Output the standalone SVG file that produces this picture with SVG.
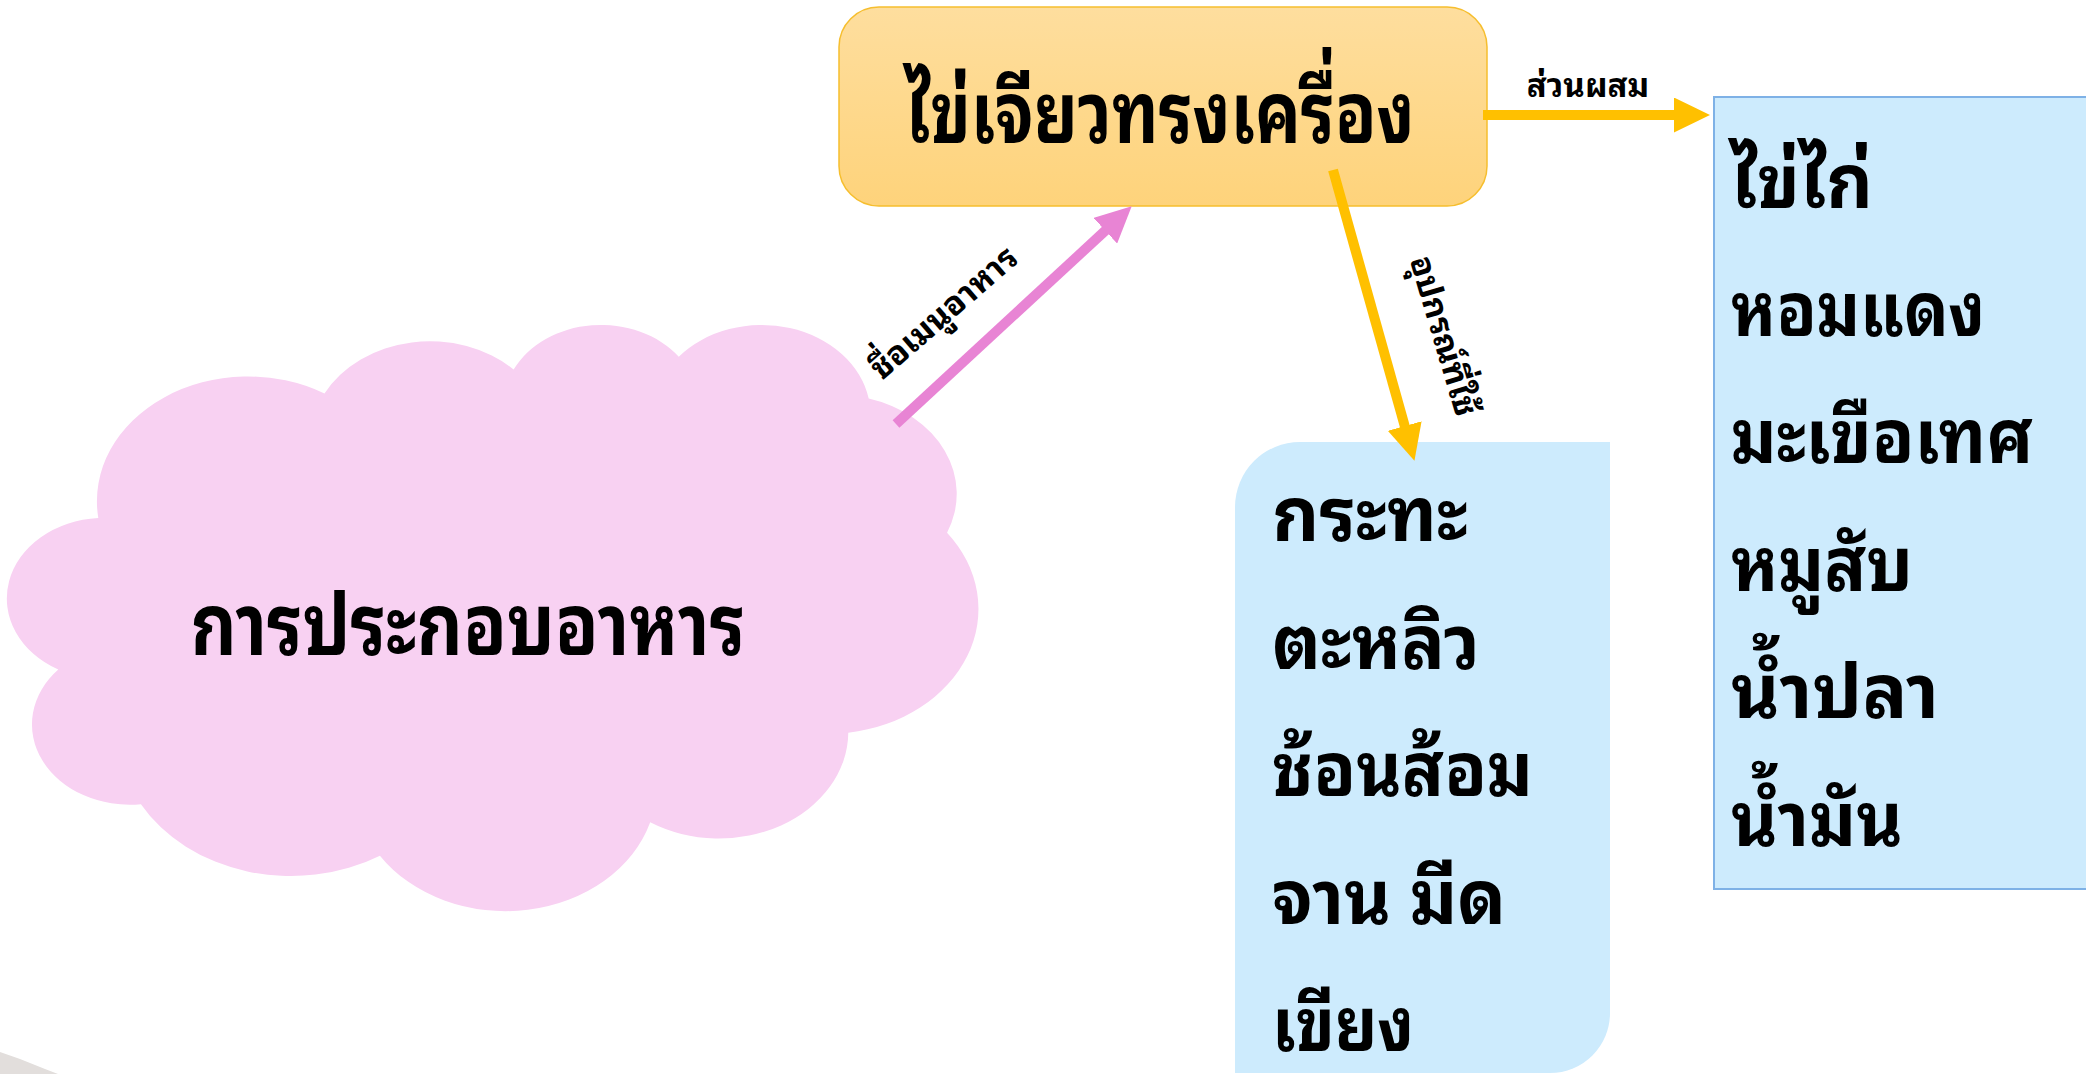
<svg xmlns="http://www.w3.org/2000/svg" width="2086" height="1074" viewBox="0 0 2086 1074">
<defs>
<style>
.th{font-family:"Noto Sans Thai Looped","Noto Sans Thai","Noto Sans","DejaVu Sans",sans-serif;font-weight:bold;fill:#000}
.big{font-size:74px}
.head{font-size:86px}
.lbl{font-size:33px}
.blue{fill:#CDEBFD}
</style>
<linearGradient id="gOrange" x1="0" y1="0" x2="0" y2="1">
<stop offset="0" stop-color="#FEDE9E"/>
<stop offset="1" stop-color="#FED37B"/>
</linearGradient>
<marker id="mPink" markerUnits="userSpaceOnUse" markerWidth="36" markerHeight="35" viewBox="0 0 36 35" refX="1" refY="17.5" orient="auto">
<path d="M0,0 L36,17.5 L0,35 Z" fill="#E884D4"/>
</marker>
<marker id="mYellow" markerUnits="userSpaceOnUse" markerWidth="36" markerHeight="35" viewBox="0 0 36 35" refX="1" refY="17.5" orient="auto">
<path d="M0,0 L36,17.5 L0,35 Z" fill="#FFC000"/>
</marker>
</defs>
<rect width="2086" height="1074" fill="#FFFFFF"/>
<polygon points="0,1052 20,1059 45,1069 58,1074 0,1074" fill="#E2DEDC"/>

<g id="node-cloud">
<path transform="translate(11,323) scale(0.022384,0.013565)" fill="#F8D1F2" d="M3900,14370 A6753,9190 0 0 1 14004.9,5202.2 A5333,7267 0 0 1 22455.5,3432.4 A4365,5945 0 0 1 29832.3,2480.2 A4857,6595 0 0 1 38317.8,5574.8 A5333,7273 0 0 1 41818.3,15458.7 A6775,9220 0 0 1 37405,30203.2 A5785,7867 0 0 1 28556.5,36813.4 A6752,9215 0 0 1 16481.5,39265.5 A7720,10543 0 0 1 5805.3,35468.6 A4360,5918 0 0 1 2112.6,25548.8 A4345,5945 0 0 1 3900,14370 Z"/>
<text class="th head" x="468" y="655" text-anchor="middle" textLength="555" lengthAdjust="spacingAndGlyphs">การประกอบอาหาร</text>
</g>

<g id="node-title">
<rect x="839" y="7" width="648" height="199" rx="40" ry="40" fill="url(#gOrange)" stroke="#F6BE2E" stroke-width="1.5"/>
<text class="th head" x="1160" y="143" text-anchor="middle" textLength="509" lengthAdjust="spacingAndGlyphs">ไข่เจียวทรงเครื่อง</text>
</g>

<g id="node-tools">
<path class="blue" d="M1235,507 A65,65 0 0 1 1300,442 L1610,442 L1610,1013 A60,60 0 0 1 1550,1073 L1235,1073 Z"/>
<text class="th big" x="1272" y="541" textLength="196" lengthAdjust="spacingAndGlyphs">กระทะ</text>
<text class="th big" x="1272" y="668.5" textLength="208" lengthAdjust="spacingAndGlyphs">ตะหลิว</text>
<text class="th big" x="1272" y="796" textLength="261" lengthAdjust="spacingAndGlyphs">ช้อนส้อม</text>
<text class="th big" x="1272" y="923.5" textLength="234" lengthAdjust="spacingAndGlyphs">จาน มีด</text>
<text class="th big" x="1272" y="1051" textLength="142" lengthAdjust="spacingAndGlyphs">เขียง</text>
</g>

<g id="node-ingredients">
<rect class="blue" x="1714" y="97" width="380" height="792" stroke="#7EB1E6" stroke-width="2"/>
<text class="th big" x="1731" y="208" textLength="142" lengthAdjust="spacingAndGlyphs">ไข่ไก่</text>
<text class="th big" x="1731" y="336" textLength="254" lengthAdjust="spacingAndGlyphs">หอมแดง</text>
<text class="th big" x="1731" y="463" textLength="302" lengthAdjust="spacingAndGlyphs">มะเขือเทศ</text>
<text class="th big" x="1731" y="591" textLength="182" lengthAdjust="spacingAndGlyphs">หมูสับ</text>
<text class="th big" x="1731" y="718" textLength="208" lengthAdjust="spacingAndGlyphs">น้ำปลา</text>
<text class="th big" x="1731" y="846" textLength="172" lengthAdjust="spacingAndGlyphs">น้ำมัน</text>
</g>

<g id="connectors">
<line x1="896" y1="424" x2="1106" y2="230" stroke="#E884D4" stroke-width="10" marker-end="url(#mPink)"/>
<line x1="1333" y1="170" x2="1405" y2="427" stroke="#FFC000" stroke-width="10" marker-end="url(#mYellow)"/>
<line x1="1483" y1="115" x2="1675" y2="115" stroke="#FFC000" stroke-width="10" marker-end="url(#mYellow)"/>
<text class="th lbl" transform="translate(951,321) rotate(-41)" text-anchor="middle">ชื่อเมนูอาหาร</text>
<text class="th lbl" transform="translate(1433,339) rotate(73.5)" text-anchor="middle">อุปกรณ์ที่ใช้</text>
<text class="th lbl" x="1588" y="97" text-anchor="middle">ส่วนผสม</text>
</g>
</svg>
